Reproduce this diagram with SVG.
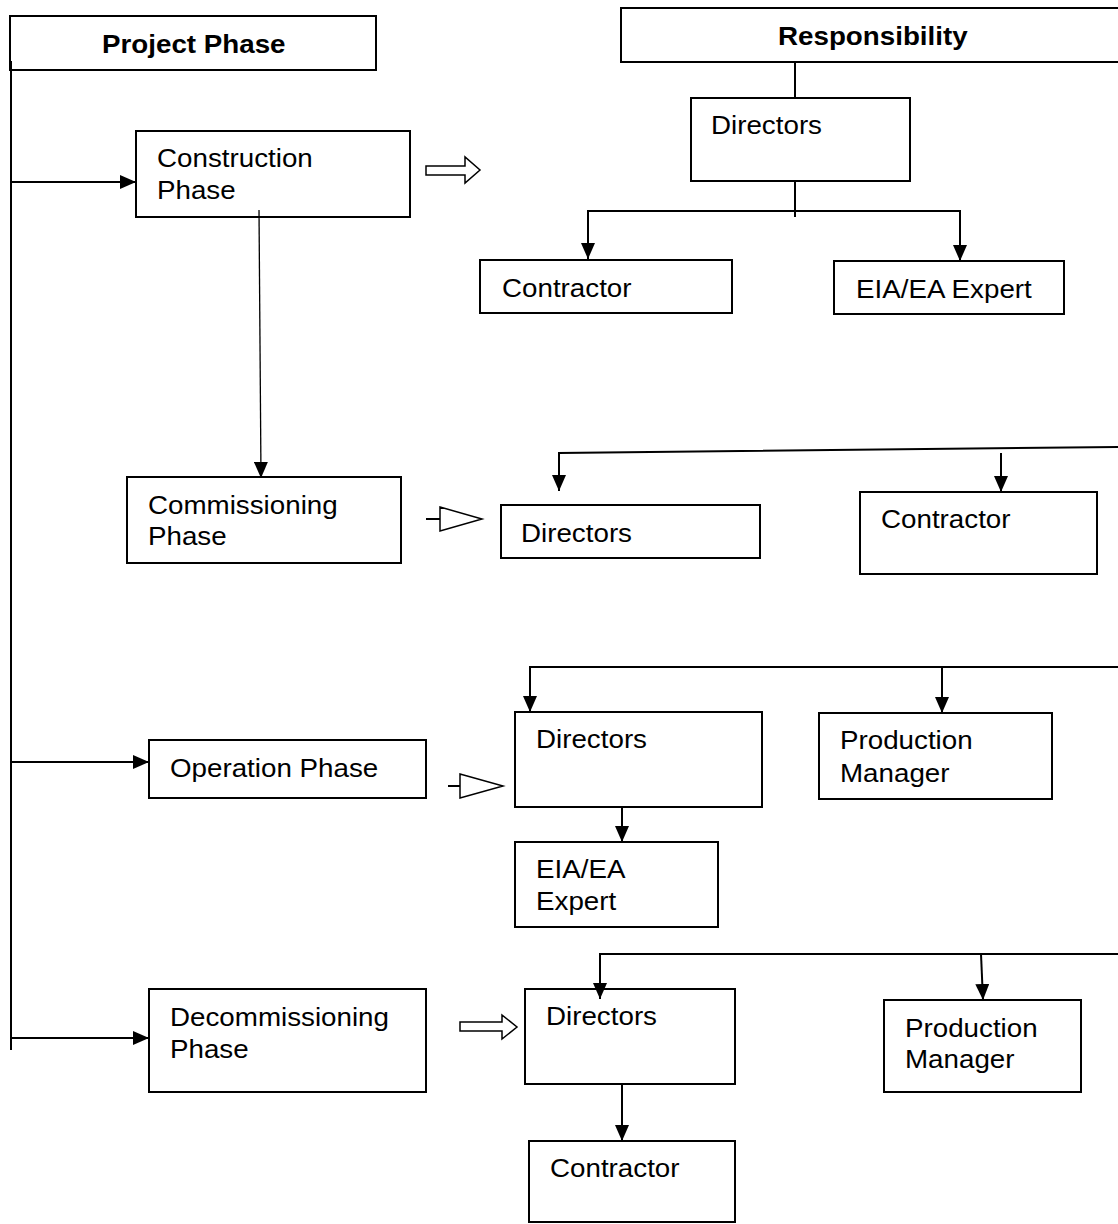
<svg xmlns="http://www.w3.org/2000/svg" width="1118" height="1224" viewBox="0 0 1118 1224">
<style>
.box{fill:#fff;stroke:#000;stroke-width:2}
.t{font-family:"Liberation Sans",Arial,sans-serif;font-size:25px;fill:#000}
.b{font-weight:bold}
.ln{fill:none;stroke:#000;stroke-width:2}
.thin{fill:none;stroke:#000;stroke-width:1.3}
.hol{fill:#fff;stroke:#000;stroke-width:1.5;stroke-linejoin:miter}
</style>
<defs>
<marker id="ah" markerUnits="userSpaceOnUse" markerWidth="16" markerHeight="14" refX="16" refY="7" orient="auto">
<path d="M0,0 L16,7 L0,14 z" fill="#000"/>
</marker>
</defs>
<rect width="1118" height="1224" fill="#fff"/>

<g id="project-phase">
<rect class="box" x="10" y="16" width="366" height="54"/>
<text class="t b" transform="translate(102,53) scale(1.11,1)">Project Phase</text>
</g>
<g id="responsibility">
<rect class="box" x="621" y="8" width="510" height="54"/>
<text class="t b" transform="translate(778,45) scale(1.11,1)">Responsibility</text>
</g>
<g id="construction">
<rect class="box" x="136" y="131" width="274" height="86"/>
<text class="t" transform="translate(157,167) scale(1.11,1)">Construction</text>
<text class="t" transform="translate(157,199) scale(1.11,1)">Phase</text>
</g>
<g id="commissioning">
<rect class="box" x="127" y="477" width="274" height="86"/>
<text class="t" transform="translate(148,514) scale(1.11,1)">Commissioning</text>
<text class="t" transform="translate(148,545) scale(1.11,1)">Phase</text>
</g>
<g id="operation">
<rect class="box" x="149" y="740" width="277" height="58"/>
<text class="t" transform="translate(170,777) scale(1.11,1)">Operation Phase</text>
</g>
<g id="decommissioning">
<rect class="box" x="149" y="989" width="277" height="103"/>
<text class="t" transform="translate(170,1026) scale(1.11,1)">Decommissioning</text>
<text class="t" transform="translate(170,1058) scale(1.11,1)">Phase</text>
</g>
<g id="directors-1">
<rect class="box" x="691" y="98" width="219" height="83"/>
<text class="t" transform="translate(711,134) scale(1.11,1)">Directors</text>
</g>
<g id="contractor-1">
<rect class="box" x="480" y="260" width="252" height="53"/>
<text class="t" transform="translate(502,297) scale(1.11,1)">Contractor</text>
</g>
<g id="eia-expert-1">
<rect class="box" x="834" y="261" width="230" height="53"/>
<text class="t" transform="translate(856,298) scale(1.11,1)">EIA/EA Expert</text>
</g>
<g id="directors-2">
<rect class="box" x="501" y="505" width="259" height="53"/>
<text class="t" transform="translate(521,542) scale(1.11,1)">Directors</text>
</g>
<g id="contractor-2">
<rect class="box" x="860" y="492" width="237" height="82"/>
<text class="t" transform="translate(881,528) scale(1.11,1)">Contractor</text>
</g>
<g id="directors-3">
<rect class="box" x="515" y="712" width="247" height="95"/>
<text class="t" transform="translate(536,748) scale(1.11,1)">Directors</text>
</g>
<g id="production-manager-1">
<rect class="box" x="819" y="713" width="233" height="86"/>
<text class="t" transform="translate(840,749) scale(1.11,1)">Production</text>
<text class="t" transform="translate(840,782) scale(1.11,1)">Manager</text>
</g>
<g id="eia-expert-2">
<rect class="box" x="515" y="842" width="203" height="85"/>
<text class="t" transform="translate(536,878) scale(1.11,1)">EIA/EA</text>
<text class="t" transform="translate(536,910) scale(1.11,1)">Expert</text>
</g>
<g id="directors-4">
<rect class="box" x="525" y="989" width="210" height="95"/>
<text class="t" transform="translate(546,1025) scale(1.11,1)">Directors</text>
</g>
<g id="production-manager-2">
<rect class="box" x="884" y="1000" width="197" height="92"/>
<text class="t" transform="translate(905,1037) scale(1.11,1)">Production</text>
<text class="t" transform="translate(905,1068) scale(1.11,1)">Manager</text>
</g>
<g id="contractor-3">
<rect class="box" x="529" y="1141" width="206" height="81"/>
<text class="t" transform="translate(550,1177) scale(1.11,1)">Contractor</text>
</g>

<g id="connectors">
<line class="ln" x1="11" y1="61" x2="11" y2="1050"/>
<line class="ln" x1="11" y1="182" x2="136" y2="182" marker-end="url(#ah)"/>
<line class="ln" x1="11" y1="762" x2="149" y2="762" marker-end="url(#ah)"/>
<line class="ln" x1="11" y1="1038" x2="149" y2="1038" marker-end="url(#ah)"/>
<line class="thin" x1="259" y1="210" x2="261" y2="478" marker-end="url(#ah)"/>
<path class="hol" d="M426,166 L465,166 L465,157 L480,170 L465,183 L465,175 L426,175 Z"/>
<line class="ln" x1="426" y1="519" x2="440" y2="519"/>
<path class="hol" d="M440,507 L482,519 L440,531 Z"/>
<line class="ln" x1="448" y1="786" x2="460" y2="786"/>
<path class="hol" d="M460,774 L503,786 L460,798 Z"/>
<path class="hol" d="M460,1022 L502,1022 L502,1015 L517,1027 L502,1039 L502,1031 L460,1031 Z"/>
<line class="ln" x1="795" y1="62" x2="795" y2="98"/>
<line class="ln" x1="795" y1="181" x2="795" y2="217"/>
<path class="ln" d="M588,240 L588,211 L960,211 L960,261" marker-end="url(#ah)"/>
<line class="ln" x1="588" y1="230" x2="588" y2="259" marker-end="url(#ah)"/>
<path class="ln" d="M559,480 L559,453 L1120,447"/>
<line class="ln" x1="559" y1="470" x2="559" y2="491" marker-end="url(#ah)"/>
<line class="ln" x1="1001" y1="453" x2="1001" y2="492" marker-end="url(#ah)"/>
<path class="ln" d="M530,690 L530,667 L1120,667"/>
<line class="ln" x1="530" y1="680" x2="530" y2="712" marker-end="url(#ah)"/>
<line class="ln" x1="942" y1="667" x2="942" y2="713" marker-end="url(#ah)"/>
<line class="ln" x1="622" y1="807" x2="622" y2="842" marker-end="url(#ah)"/>
<path class="ln" d="M600,975 L600,954 L1120,954"/>
<line class="ln" x1="600" y1="965" x2="600" y2="999" marker-end="url(#ah)"/>
<line class="ln" x1="981" y1="954" x2="983" y2="1000" marker-end="url(#ah)"/>
<line class="ln" x1="622" y1="1084" x2="622" y2="1141" marker-end="url(#ah)"/>
</g>
</svg>
